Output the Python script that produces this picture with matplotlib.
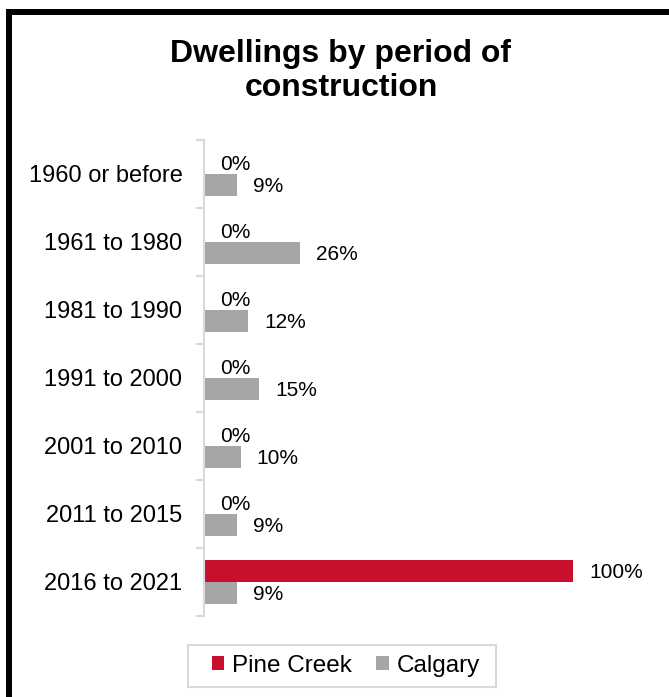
import matplotlib
matplotlib.use("Agg")
import matplotlib.pyplot as plt
from matplotlib.patches import Patch, Rectangle
from matplotlib.lines import Line2D
import numpy as np

plt.rcParams['font.family'] = ['Liberation Sans', 'DejaVu Sans']

categories = ["1960 or before", "1961 to 1980", "1981 to 1990", "1991 to 2000",
              "2001 to 2010", "2011 to 2015", "2016 to 2021"]
pine_creek = [0, 0, 0, 0, 0, 0, 100]
calgary = [9, 26, 12, 15, 10, 9, 9]
series_names = ["Pine Creek", "Calgary"]
colors = ["#C8102E", "#A6A6A6"]

W, H = 669, 697
fig = plt.figure(figsize=(W / 100, H / 100), dpi=100)

# axes placement in pixels
ax_left, ax_right, ax_top, ax_bottom = 204, 573, 140, 616
ax = fig.add_axes([ax_left / W, 1 - ax_bottom / H, (ax_right - ax_left) / W, (ax_bottom - ax_top) / H])

y = np.arange(len(categories))
bh = 0.325
b1 = ax.barh(y - bh / 2, pine_creek, height=bh, color=colors[0], label=series_names[0])
b2 = ax.barh(y + bh / 2, calgary, height=bh, color=colors[1], label=series_names[1])

ax.set_xlim(0, 100)
ax.set_ylim(len(categories) - 0.5, -0.5)

for bars, vals in ((b1, pine_creek), (b2, calgary)):
    for rect, v in zip(bars, vals):
        ax.annotate(f"{v}%", xy=(rect.get_width(), rect.get_y() + rect.get_height() / 2),
                    xytext=(11.5, -1.0), textcoords="offset points", ha="left", va="center",
                    fontsize=15, color="#000000", annotation_clip=False)

ax.set_yticks(y)
ax.set_yticklabels(categories, fontsize=17)
ax.tick_params(axis="y", which="major", length=0, pad=15.5)
ax.set_yticks(np.arange(-0.5, len(categories), 1.0), minor=True)
ax.tick_params(axis="y", which="minor", length=6, color="#D9D9D9", width=1.5)
ax.set_xticks([])
for s in ("top", "right", "bottom"):
    ax.spines[s].set_visible(False)
ax.spines["left"].set_color("#D9D9D9")
ax.spines["left"].set_linewidth(1.5)

fig.text(341 / W, 1 - 71 / H, "Dwellings by period of\nconstruction", ha="center", va="center",
         fontsize=23, fontweight="bold", linespacing=1.2)

# legend frame drawn separately (wider horizontal padding like the original)
fig.add_artist(Rectangle((188 / W, 1 - 687 / H), (496 - 188) / W, (687 - 645) / H,
                         transform=fig.transFigure, facecolor="white", edgecolor="#D9D9D9",
                         linewidth=1.5, zorder=1))
handles = [Patch(facecolor=c, edgecolor="none") for c in colors]
leg = fig.legend(handles, series_names, loc="center", bbox_to_anchor=(346 / W, 1 - 666 / H),
                 ncol=2, fontsize=17.5, frameon=False,
                 handlelength=0.5, handleheight=0.5, handletextpad=0.35, columnspacing=1.0,
                 borderpad=0.35)
leg.set_zorder(2)

# outer border (top and left visible)
fig.add_artist(Line2D([9 / W, 1.0], [1 - 12 / H, 1 - 12 / H], color="black", linewidth=4.3,
                      transform=fig.transFigure, solid_capstyle="projecting"))
fig.add_artist(Line2D([9 / W, 9 / W], [1 - 12 / H, 0], color="black", linewidth=4.3,
                      transform=fig.transFigure, solid_capstyle="projecting"))

fig.savefig("out.png", dpi=100)
